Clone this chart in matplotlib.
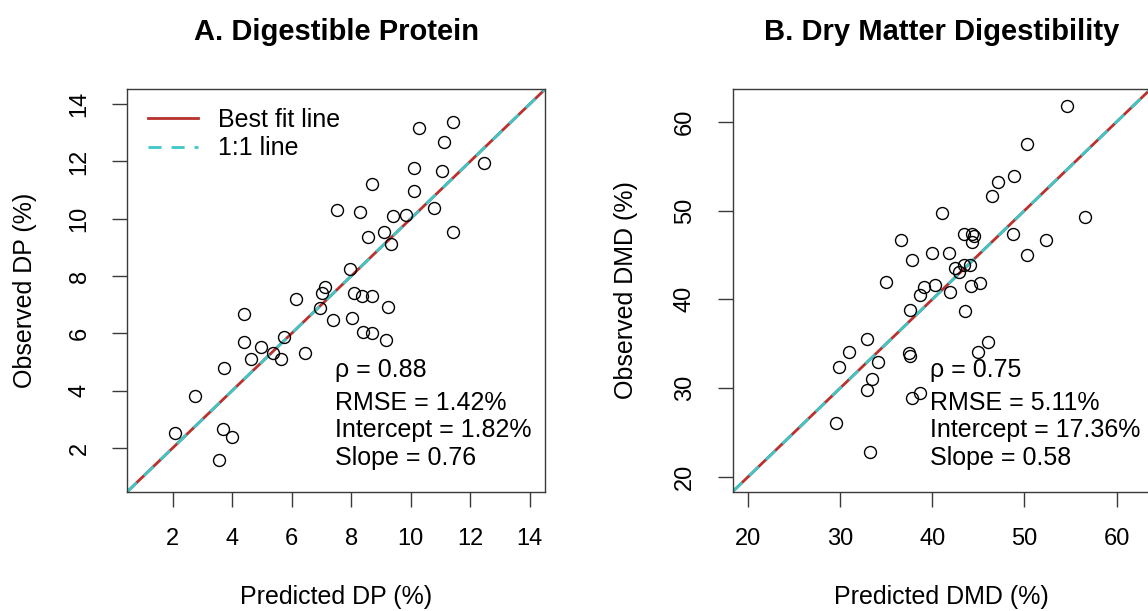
import matplotlib
matplotlib.use("Agg")
import matplotlib.pyplot as plt

plt.rcParams['font.family'] = ['Liberation Sans', 'DejaVu Sans']

# Panel A: digestible protein (predicted vs observed, %)
dp_pred = [10.28, 11.44, 11.14, 12.46, 10.13, 11.06, 8.72, 10.11, 7.52, 8.31,
           10.79, 9.42, 9.83, 11.42, 9.12, 8.56, 9.33, 7.97, 7.11, 7.01,
           6.16, 8.09, 8.38, 8.71, 9.25, 4.40, 6.94, 7.39, 8.03, 8.40,
           8.69, 9.18, 5.74, 4.39, 4.97, 5.37, 5.63, 4.64, 6.46, 3.73,
           2.76, 2.08, 3.71, 4.01, 3.56]
dp_obs = [13.18, 13.38, 12.68, 11.95, 11.78, 11.66, 11.20, 10.98, 10.30, 10.24,
          10.36, 10.10, 10.14, 9.55, 9.53, 9.37, 9.11, 8.26, 7.61, 7.40,
          7.20, 7.42, 7.32, 7.32, 6.92, 6.67, 6.88, 6.46, 6.55, 6.06,
          6.01, 5.77, 5.89, 5.71, 5.52, 5.33, 5.11, 5.10, 5.31, 4.79,
          3.82, 2.54, 2.68, 2.38, 1.58]

# Panel B: dry matter digestibility (predicted vs observed, %)
dmd_pred = [54.66, 50.27, 48.82, 47.11, 46.53, 41.01, 56.55, 36.62, 48.71, 52.38,
            43.41, 44.28, 44.50, 44.36, 50.23, 39.92, 41.82, 37.79, 42.50, 43.41,
            44.10, 42.94, 34.92, 39.13, 40.29, 38.66, 41.93, 44.25, 45.23, 37.61,
            43.59, 32.96, 46.02, 30.93, 37.50, 37.61, 44.93, 34.09, 29.91, 33.50,
            32.92, 37.82, 38.62, 29.55, 33.25]
dmd_obs = [61.85, 57.49, 53.92, 53.28, 51.66, 49.75, 49.30, 46.64, 47.35, 46.67,
           47.35, 47.35, 47.16, 46.41, 45.01, 45.28, 45.24, 44.38, 43.55, 43.85,
           43.82, 43.03, 42.01, 41.41, 41.60, 40.51, 40.81, 41.52, 41.83, 38.78,
           38.67, 35.48, 35.18, 34.08, 33.97, 33.60, 34.08, 32.92, 32.39, 31.01,
           29.73, 28.90, 29.39, 26.08, 22.75]

stats_a = ["\u03c1 = 0.88", "RMSE = 1.42%", "Intercept = 1.82%", "Slope = 0.76"]
stats_b = ["\u03c1 = 0.75", "RMSE = 5.11%", "Intercept = 17.36%", "Slope = 0.58"]

red = "#B8312C"
teal = "#3EC6C8"
edge = "#3a3a3a"

fig = plt.figure(figsize=(11.48, 6.11), dpi=100)
ax_a = fig.add_axes([0.1109, 0.1953, 0.3639, 0.6586])
ax_b = fig.add_axes([0.6382, 0.1953, 0.3639, 0.6586])


def draw_panel(ax, x, y, lim, ticks, title, xlabel, ylabel, stats, stats_x, ylab_x):
    ax.plot(x, y, 'o', mfc='none', mec='black', ms=8.6, mew=1.0, zorder=3)
    ax.axline((lim[0], lim[0]), slope=1, color=red, lw=2.0, label="Best fit line", zorder=2)
    ax.axline((lim[0], lim[0]), slope=1, color=teal, lw=2.0, dashes=(4.7, 3.6),
              label="1:1 line", zorder=2)
    ax.set_xlim(lim)
    ax.set_ylim(lim)
    ax.set_xticks(ticks)
    ax.set_yticks(ticks)
    ax.tick_params(length=10.5, width=1.0, color=edge, pad=16, labelsize=17)
    ax.tick_params(axis='y', labelrotation=90)
    for lab in ax.get_yticklabels():
        lab.set_va('center')
    for sp in ax.spines.values():
        sp.set_color(edge)
        sp.set_linewidth(1.0)
    ax.set_xlabel(xlabel, fontsize=18)
    ax.set_ylabel(ylabel, fontsize=18)
    ax.xaxis.set_label_coords(0.5, -0.232)
    ax.yaxis.set_label_coords(ylab_x, 0.5)
    ax.text(0.5, 1.1225, title, transform=ax.transAxes, ha='center', va='baseline',
            fontsize=21, fontweight='bold')
    for yy, s in zip([0.286, 0.204, 0.135, 0.066], stats):
        ax.text(stats_x, yy, s, transform=ax.transAxes, ha='left', va='baseline', fontsize=18)


draw_panel(ax_a, dp_pred, dp_obs, (0.48, 14.52), [2, 4, 6, 8, 10, 12, 14],
           "A. Digestible Protein", "Predicted DP (%)", "Observed DP (%)",
           stats_a, 0.497, -0.216)
draw_panel(ax_b, dmd_pred, dmd_obs, (18.32, 63.68), [20, 30, 40, 50, 60],
           "B. Dry Matter Digestibility", "Predicted DMD (%)", "Observed DMD (%)",
           stats_b, 0.472, -0.227)

ax_a.legend(loc='upper left', bbox_to_anchor=(0.05, 0.953), frameon=False, fontsize=18,
            borderpad=0, borderaxespad=0, handlelength=2.0, handletextpad=0.8,
            labelspacing=0.17)

fig.savefig("out.png", dpi=100)
